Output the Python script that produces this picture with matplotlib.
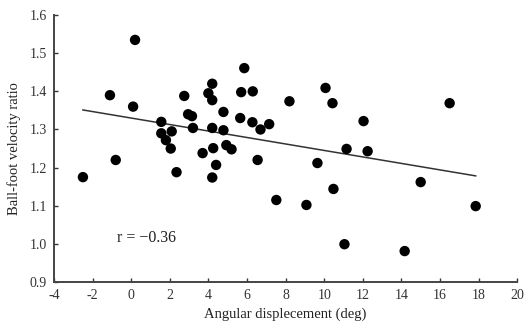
import numpy as np
import matplotlib
matplotlib.use("Agg")
import matplotlib.pyplot as plt

plt.rcParams['font.family'] = ['Liberation Serif', 'DejaVu Serif']

# angular displacement (deg) and ball-foot velocity ratio
angle = [-2.5, -1.1, -0.8, 0.2, 0.1, 1.56, 1.56, 2.1, 1.8, 2.05,
         2.35, 2.75, 2.95, 3.15, 3.2, 3.7, 4.0, 4.2, 4.2, 4.2,
         4.25, 4.4, 4.2, 4.78, 4.78, 4.93, 5.2, 5.65, 5.7, 5.86,
         6.28, 6.3, 6.7, 6.55, 7.15, 7.52, 8.2, 9.08, 9.65, 10.07,
         10.43, 10.48, 11.05, 11.16, 12.04, 12.25, 14.17, 15.0, 16.5, 17.85]
ratio = [1.175, 1.39, 1.22, 1.535, 1.36, 1.32, 1.29, 1.295, 1.272, 1.25,
         1.188, 1.388, 1.34, 1.335, 1.304, 1.238, 1.395, 1.42, 1.377, 1.304,
         1.251, 1.207, 1.174, 1.346, 1.298, 1.259, 1.248, 1.33, 1.398, 1.461,
         1.319, 1.40, 1.30, 1.22, 1.314, 1.115, 1.374, 1.102, 1.212, 1.409,
         1.369, 1.144, 0.999, 1.249, 1.322, 1.243, 0.981, 1.162, 1.369, 1.099]

# regression line as drawn
fit_x = [-2.5, 17.85]
fit_slope = -0.0085
fit_icpt = 1.330

xticks = [-4, -2, 0, 2, 4, 6, 8, 10, 12, 14, 16, 18, 20]
yticks = [0.9, 1.0, 1.1, 1.2, 1.3, 1.4, 1.5, 1.6]

fig = plt.figure(figsize=(5.24, 3.29), dpi=100)
ax = fig.add_axes([0.103, 0.143, 0.884, 0.811])

ax.scatter(angle, ratio, s=56, color='black', edgecolors='none', zorder=3)
fx = np.array(fit_x)
ax.plot(fx, fit_icpt + fit_slope * fx, color='#333333', lw=1.1, zorder=2)

ax.text(-0.75, 1.015, 'r = \u22120.36', fontsize=11.5, va='center', ha='left', color='#222222')

ax.set_xlim(-4, 20)
ax.set_ylim(0.9, 1.6)
ax.set_xticks(xticks)
ax.set_xticklabels([str(t) for t in xticks])
ax.set_yticks(yticks)
ax.set_yticklabels(['%.1f' % t for t in yticks])
ax.tick_params(direction='in', length=3, width=1, labelsize=10, colors='#333333', pad=5)

for side in ['top', 'right']:
    ax.spines[side].set_visible(False)
for side in ['left', 'bottom']:
    ax.spines[side].set_color('#444444')
    ax.spines[side].set_linewidth(1.4)

ax.set_xlabel('Angular displecement (deg)', fontsize=10.5, color='#222222', labelpad=4)
ax.set_ylabel('Ball-foot velocity ratio', fontsize=10.5, color='#222222', labelpad=6)

fig.savefig('out.png', dpi=100)
